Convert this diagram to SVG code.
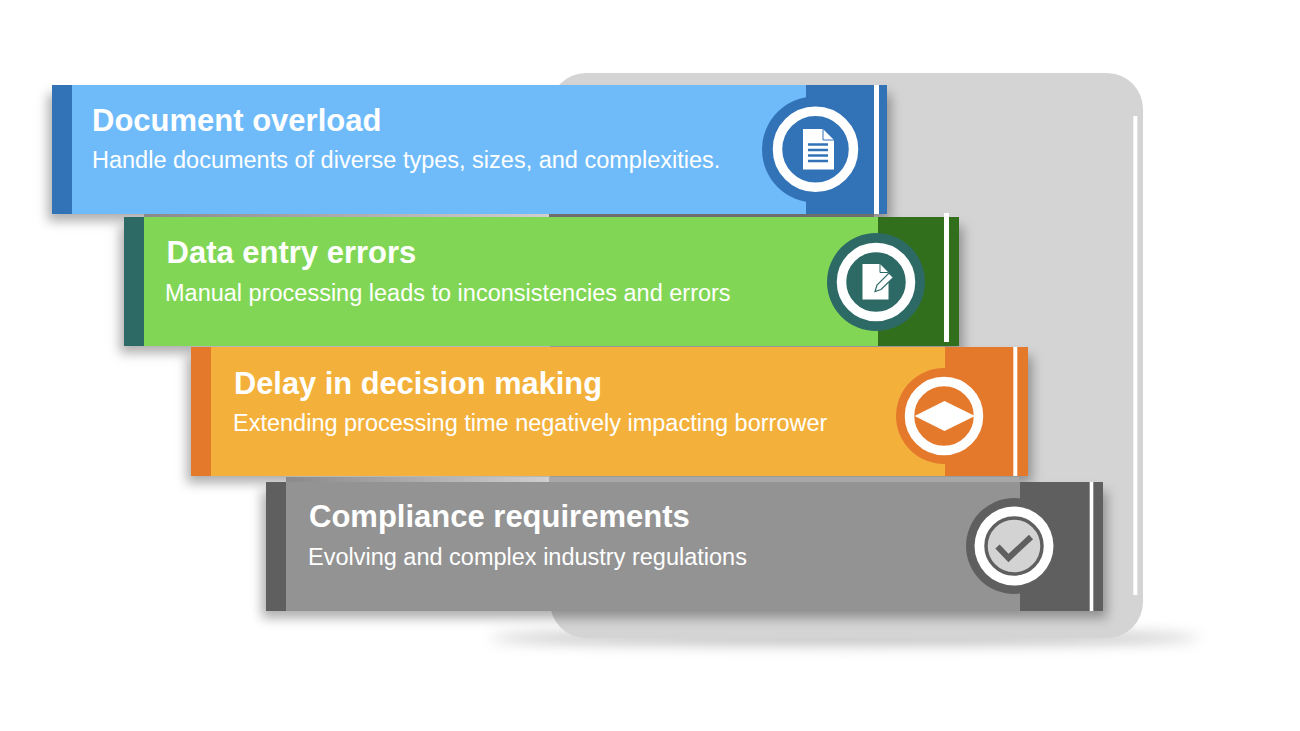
<svg xmlns="http://www.w3.org/2000/svg" width="1300" height="731" viewBox="0 0 1300 731">
<style>
.t{font-family:"Liberation Sans",Arial,sans-serif;fill:#fff}
.h{font-size:31px;font-weight:700}
.s{font-size:23.500px}
.sh{fill:#000;fill-opacity:.32;filter:url(#b)}
.w{fill:#fff}
</style>
<defs>
<filter id="b" x="-10%" y="-30%" width="120%" height="160%"><feGaussianBlur stdDeviation="6"/></filter>
<filter id="b2" x="-20%" y="-300%" width="140%" height="700%"><feGaussianBlur stdDeviation="7"/></filter>
<linearGradient id="seam"><stop offset="0" stop-color="#8a8a8a"/><stop offset="1" stop-color="#cfcfcf"/></linearGradient>
</defs>
<g id="panel">
<ellipse cx="845" cy="638" rx="355" ry="7" fill="#000" fill-opacity=".26" filter="url(#b2)"/>
<rect x="550" y="73" width="593" height="565" rx="36" fill="#d4d4d4"/>
<rect x="1133.300" y="116" width="4" height="479" fill="#fff"/>
</g>
<g id="node1">
<rect class="sh" x="48" y="94" width="843" height="127"/>
<rect x="52" y="85" width="835" height="129" fill="#6fbbfa"/>
<rect x="52" y="85" width="20" height="129" fill="#3173b6"/>
<rect x="806" y="85" width="81" height="129" fill="#3173b6"/>
<rect x="874" y="85" width="5" height="129" fill="#fff"/>
<circle cx="815" cy="149.500" r="53" fill="#3173b6"/>
<circle cx="815.500" cy="149.300" r="38" fill="none" stroke="#fff" stroke-width="9.500"/>
<path class="w" d="M803 129H823L834 140V169.500H803Z"/>
<path d="M823 129V140H834" fill="none" stroke="#3173b6" stroke-width="1"/>
<path d="M808 144.500H828M808 150H828M808 155.500H828M808 161H828" stroke="#3173b6" stroke-width="2.700"/>
<text class="t h" x="92" y="131">Document overload</text>
<text class="t s" x="92" y="168">Handle documents of diverse types, sizes, and complexities.</text>
</g>
<g id="node2">
<rect class="sh" x="120" y="226" width="843" height="127"/>
<rect x="124" y="217" width="835" height="129" fill="#81d755"/>
<rect x="124" y="217" width="20" height="129" fill="#2d6a66"/>
<rect x="878" y="217" width="81" height="129" fill="#316f1d"/>
<rect x="944" y="213" width="5" height="129" fill="#fff"/>
<circle cx="876" cy="282" r="49" fill="#2d6a66"/>
<circle cx="876" cy="282" r="34.500" fill="none" stroke="#fff" stroke-width="9.500"/>
<path class="w" d="M862.500 264H880L888.500 272.500V299.500H862.500Z"/>
<path d="M880 264V272.500H888.500" fill="none" stroke="#2d6a66" stroke-width="1"/>
<path d="M875 291.500L877 285L889 273L893.500 277.500L881 289.500Z" fill="#fff" stroke="#2d6a66" stroke-width="1.200"/>
<text class="t h" x="166.500" y="263">Data entry errors</text>
<text class="t s" x="165" y="301">Manual processing leads to inconsistencies and errors</text>
</g>
<g id="node3">
<rect class="sh" x="187" y="356" width="845" height="127"/>
<rect x="191" y="347" width="837" height="129" fill="#f3b13c"/>
<rect x="191" y="347" width="20" height="129" fill="#e4792c"/>
<rect x="945" y="347" width="83" height="129" fill="#e4792c"/>
<rect x="1013.300" y="347" width="4" height="129" fill="#fff"/>
<circle cx="944" cy="416" r="48" fill="#e4792c"/>
<circle cx="944" cy="416" r="34.500" fill="none" stroke="#fff" stroke-width="9.500"/>
<path class="w" d="M914.500 416L944.500 401L975 416L944.500 431Z"/>
<text class="t h" x="234" y="394" textLength="368" lengthAdjust="spacingAndGlyphs">Delay in decision making</text>
<text class="t s" x="233" y="431">Extending processing time negatively impacting borrower</text>
</g>
<g id="node4">
<rect class="sh" x="262" y="491" width="845" height="127"/>
<rect x="266" y="482" width="837" height="129" fill="#939393"/>
<rect x="266" y="482" width="20" height="129" fill="#5f5f5f"/>
<rect x="1020" y="482" width="83" height="129" fill="#5f5f5f"/>
<rect x="1089.700" y="482" width="3.600" height="129" fill="#fff"/>
<circle cx="1014" cy="546" r="48" fill="#5f5f5f"/>
<circle cx="1014" cy="546" r="39.500" fill="#fff"/>
<circle cx="1014" cy="546" r="28" fill="#d3d3d3" stroke="#5f5f5f" stroke-width="3.500"/>
<path d="M997.500 546.500L1008.500 558L1031 537" fill="none" stroke="#5f5f5f" stroke-width="6"/>
<text class="t h" x="309" y="527">Compliance requirements</text>
<text class="t s" x="308" y="565">Evolving and complex industry regulations</text>
</g>
<g id="seams">
<rect x="144" y="214" width="405" height="3" fill="url(#seam)"/>
<rect x="549" y="214" width="325" height="3" fill="#6e6e6e"/>
<rect x="286" y="477" width="263" height="5" fill="url(#seam)"/>
<rect x="549" y="477" width="470" height="5" fill="#a8a8a8"/>
</g>
</svg>
